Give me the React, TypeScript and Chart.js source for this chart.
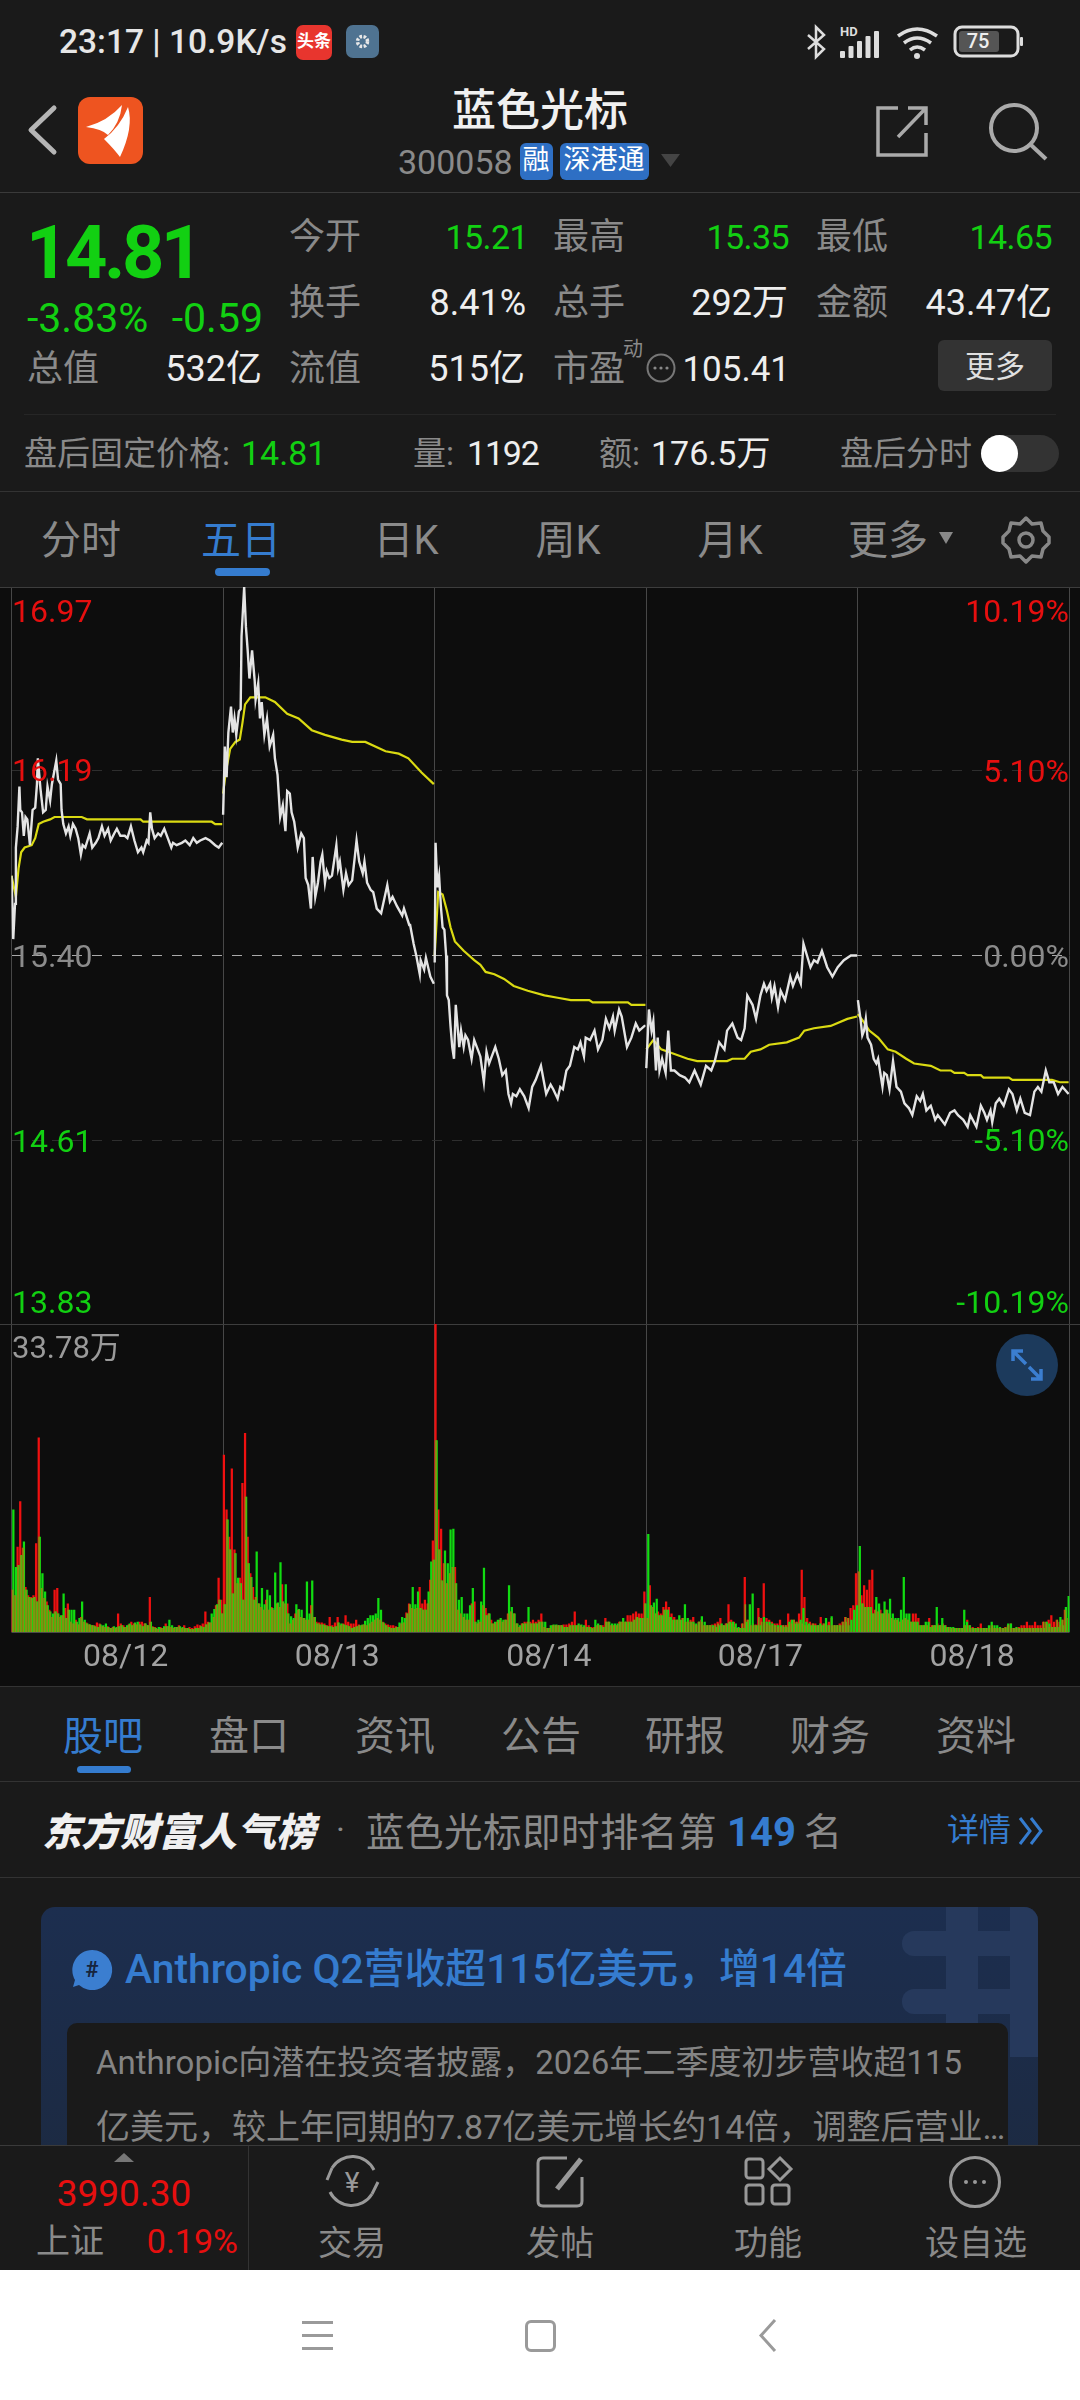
import React, { useEffect, useRef } from "react";
import { Chart, registerables } from "chart.js";

Chart.register(...registerables);

const FONT = 'Roboto, "Noto Sans CJK SC", sans-serif';
const MINUTES_PER_DAY = 241;
const dayLabels = ["08/12", "08/13", "08/14", "08/17", "08/18"];
const priceTicks = [16.97, 16.19, 15.4, 14.61, 13.83];
const priceTickLabels = ["16.97", "16.19", "15.40", "14.61", "13.83"];
const pctTicks = [10.19, 5.1, 0, -5.1, -10.19];
const pctTickLabels = ["10.19%", "5.10%", "0.00%", "-5.10%", "-10.19%"];
const volumeTick = 33.78;
const volumeTickLabel = "33.78万";

const priceMin1 = [0,2,4,5,7,9,10,12,14,16,18,21,24,27,29,30,33,36,39,41,44,46,51,53,56,57,59,62,65,67,70,73,76,79,81,84,89,92,96,99,103,106,110,113,117,120,124,129,132,136,140,144,148,150,154,156,158,160,163,167,170,174,178,182,184,188,194,198,203,207,211,215,221,226,232,236,240];
const price1 = [15.74,15.47,15.62,15.86,15.95,16.12,16.02,16.01,15.91,15.99,15.98,15.87,16.02,16.03,16.13,16.24,16.11,16.01,16.02,16.12,16.06,16.13,16.23,16.15,16.13,16.02,15.96,15.92,15.95,15.91,15.96,15.94,15.90,15.83,15.87,15.86,15.92,15.86,15.88,15.90,15.95,15.91,15.94,15.89,15.92,15.94,15.91,15.91,15.90,15.95,15.89,15.84,15.86,15.84,15.89,15.88,16.01,15.94,15.90,15.92,15.91,15.94,15.90,15.86,15.88,15.87,15.88,15.89,15.87,15.90,15.88,15.89,15.90,15.89,15.87,15.86,15.88];
const avgMin1 = [0,5,8,11,15,23,27,31,36,44,49,80,86,147,150,228,232,240];
const avg1 = [15.74,15.65,15.77,15.84,15.86,15.87,15.90,15.96,15.97,15.98,15.99,15.99,15.98,15.98,15.97,15.97,15.96,15.96];

const priceMin2 = [0,2,4,6,9,11,13,15,18,20,21,24,26,28,30,33,36,37,40,42,44,47,50,53,57,59,62,65,68,71,73,76,78,81,85,89,92,94,97,100,102,105,108,111,113,116,118,121,124,129,131,133,137,140,143,147,150,152,155,159,161,164,168,171,175,180,187,190,193,198,204,206,212,213,217,220,224,225,229,231,236,240];
const price2 = [16.00,16.29,16.16,16.35,16.46,16.35,16.41,16.34,16.44,16.45,16.76,16.97,16.80,16.70,16.58,16.70,16.57,16.49,16.56,16.41,16.48,16.34,16.41,16.29,16.34,16.24,16.17,15.99,16.04,15.93,16.10,16.09,16.01,15.97,15.86,15.92,15.90,15.73,15.70,15.60,15.82,15.65,15.71,15.80,15.83,15.71,15.76,15.73,15.74,15.87,15.77,15.80,15.68,15.75,15.70,15.72,15.82,15.89,15.80,15.75,15.80,15.71,15.68,15.67,15.60,15.58,15.70,15.63,15.65,15.61,15.57,15.60,15.53,15.53,15.45,15.40,15.32,15.38,15.34,15.39,15.31,15.28];
const avgMin2 = [0,3,8,14,19,22,25,31,48,59,73,86,101,116,135,147,162,185,200,211,226,240];
const avg2 = [16.09,16.18,16.28,16.31,16.32,16.39,16.47,16.50,16.50,16.48,16.43,16.41,16.36,16.34,16.32,16.31,16.31,16.27,16.26,16.24,16.18,16.13];

const priceMin3 = [0,1,3,5,7,9,11,13,14,16,18,20,22,24,28,30,33,35,38,42,45,49,52,56,59,62,65,69,73,77,81,84,87,89,93,97,102,107,111,115,121,127,132,135,140,143,146,150,154,159,163,166,170,172,177,182,186,191,195,199,203,205,210,213,219,224,229,233,239,240];
const price3 = [15.37,15.88,15.69,15.74,15.61,15.52,15.51,15.40,15.23,15.21,15.10,15.01,14.96,15.19,15.01,15.08,15.01,15.06,15.04,14.96,15.04,15.00,14.97,14.86,14.99,14.94,14.97,15.01,14.96,14.89,14.91,14.81,14.77,14.81,14.80,14.83,14.80,14.75,14.84,14.87,14.93,14.81,14.85,14.83,14.79,14.84,14.83,14.91,14.93,15.01,15.00,15.03,14.97,15.05,15.04,15.08,15.00,15.04,15.13,15.09,15.14,15.08,15.17,15.14,15.01,15.05,15.11,15.08,15.10,15.10];
const avgMin3 = [0,4,9,14,18,23,33,45,52,58,68,79,90,106,125,140,155,176,180,220,224,240];
const avg3 = [15.40,15.67,15.66,15.59,15.52,15.46,15.42,15.38,15.36,15.33,15.32,15.30,15.27,15.25,15.23,15.22,15.21,15.21,15.20,15.20,15.19,15.19];

const priceMin4 = [0,3,6,8,11,13,15,18,22,25,28,32,38,44,49,55,62,68,74,78,83,89,92,98,104,108,112,115,121,125,130,134,137,141,143,146,150,153,158,164,167,172,176,179,183,187,191,195,200,206,212,218,225,233,240];
const price4 = [14.92,15.17,15.08,15.12,14.91,15.05,14.91,14.96,14.90,15.08,14.91,14.91,14.89,14.88,14.86,14.91,14.85,14.93,14.91,14.95,15.03,15.00,15.08,15.11,15.05,15.04,15.09,15.23,15.19,15.13,15.23,15.28,15.25,15.28,15.22,15.27,15.18,15.25,15.21,15.31,15.27,15.32,15.28,15.45,15.40,15.35,15.38,15.37,15.42,15.35,15.31,15.35,15.38,15.40,15.40];
const avgMin4 = [0,8,17,32,47,58,92,98,112,119,130,140,160,174,180,191,210,229,240];
const avg4 = [15.00,15.04,15.00,14.98,14.96,14.95,14.95,14.96,14.96,14.99,15.00,15.02,15.03,15.05,15.08,15.09,15.10,15.13,15.14];

const priceMin5 = [0,3,5,7,9,11,15,18,21,23,28,30,33,36,40,44,49,53,58,62,67,71,74,78,83,88,91,99,105,110,114,120,125,128,135,140,144,147,151,153,157,161,166,172,176,181,185,190,196,201,205,209,214,218,223,228,233,240];
const price5 = [15.21,15.13,15.06,15.08,15.13,15.05,15.02,14.96,14.94,14.96,14.84,14.90,14.89,14.83,14.95,14.84,14.82,14.77,14.75,14.72,14.80,14.78,14.81,14.74,14.76,14.70,14.72,14.68,14.73,14.74,14.72,14.70,14.67,14.72,14.67,14.76,14.73,14.70,14.74,14.69,14.77,14.79,14.76,14.83,14.81,14.74,14.79,14.73,14.72,14.82,14.84,14.82,14.91,14.86,14.86,14.81,14.84,14.81];
const avgMin5 = [0,6,13,23,34,43,55,64,83,94,106,110,121,125,140,143,172,176,221,230,240];
const avg5 = [15.15,15.12,15.08,15.05,15.00,14.99,14.96,14.94,14.93,14.91,14.91,14.90,14.90,14.89,14.89,14.88,14.88,14.87,14.87,14.86,14.86];

const volRed1 = [4.6,4.0,9.3,14.3,9.2,4.9,4.0,3.8,4.0,9.7,21.3,4.8,3.7,3.3,2.4,1.6,4.6,4.8,1.6,1.8,2.6,3.1,1.1,0.9,1.3,0.8,1.6,1.1,1.0,0.8,0.7,0.7,1.0,0.9,0.6,0.5,0.6,0.4,0.5,0.4,2.0,0.9,0.7,0.5,0.8,1.1,0.9,0.8,1.1,1.1,0.9,0.7,3.8,0.6,0.5,0.3,0.5,0.4,0.9,0.6,0.5,0.4,0.5,0.7,0.4,0.7,0.4,0.5,0.4,0.6,0.8,0.7,0.9,2.2,1.1,1.0,1.6,2.9,5.9,3.5];
const volGreen1 = [13.4,7.1,7.3,8.4,9.9,4.6,3.8,3.7,3.8,3.3,10.4,6.4,4.4,2.9,2.2,2.0,2.2,2.0,1.8,4.2,1.5,2.4,2.4,2.4,1.1,1.5,3.3,1.3,0.9,0.8,0.7,0.6,0.5,0.8,0.7,0.9,0.5,0.4,0.6,0.5,0.6,0.7,0.5,0.7,0.9,0.7,1.0,1.1,0.8,0.6,0.9,0.7,1.1,0.5,0.4,0.5,0.4,0.6,0.6,1.3,0.7,0.5,0.5,0.6,0.5,0.4,0.4,0.3,0.3,0.4,0.4,0.6,0.5,0.8,1.0,2.0,2.5,3.0,3.5,2.0];
const volRed2 = [19.4,13.4,10.4,17.9,9.0,5.3,5.9,16.3,21.8,10.4,6.4,4.9,3.8,3.1,2.7,2.4,3.5,2.4,2.7,2.4,3.1,2.7,5.2,3.1,3.1,0.9,1.3,2.0,2.4,1.6,1.5,1.3,1.3,2.9,1.6,1.1,1.0,1.0,0.9,0.7,1.6,0.7,1.0,1.6,0.7,0.9,1.8,1.1,0.9,0.9,1.3,0.8,0.7,0.8,0.7,0.9,1.1,1.3,1.5,1.3,1.1,0.9,0.8,0.7,0.7,0.6,0.5,0.9,1.0,2.1,3.1,2.6,2.5,2.6,4.9,3.1,3.5,3.1,5.7,10.0];
const volGreen2 = [3.0,12.3,9.0,4.2,8.6,5.9,5.3,3.5,14.8,7.5,6.0,3.5,8.8,3.1,4.8,3.0,4.6,4.0,2.6,6.5,3.2,7.6,3.3,5.2,2.0,1.7,1.5,3.0,2.5,2.4,1.5,5.5,2.0,5.6,1.6,0.9,0.8,0.8,0.7,0.6,0.6,0.5,0.6,1.0,0.9,0.8,0.7,0.6,0.4,0.5,0.6,0.7,0.8,1.2,1.5,1.8,1.8,2.0,3.7,2.4,1.0,0.7,0.5,0.4,0.4,0.5,1.0,1.6,1.5,2.0,3.0,4.9,3.0,4.4,2.6,2.4,2.4,4.4,7.7,7.9];
const volRed3 = [33.78,13.4,11.3,7.5,5.3,6.4,7.1,7.1,2.4,2.0,1.6,1.3,1.3,3.1,3.3,0.9,1.1,2.9,2.6,2.0,1.3,0.9,1.1,1.3,1.1,1.3,2.0,2.2,2.0,0.9,0.5,0.9,1.1,1.1,1.1,1.3,1.1,1.3,2.0,0.5,0.4,0.4,0.7,0.7,0.7,0.7,0.8,0.8,0.9,1.1,2.2,0.7,0.7,0.5,1.3,0.7,0.5,0.5,0.7,0.7,0.7,1.5,1.1,0.7,0.7,0.7,1.1,1.1,1.1,1.8,1.8,2.0,2.2,2.0,2.0,4.4];
const volGreen3 = [21.0,9.0,5.6,8.9,7.5,11.2,11.3,5.3,3.5,3.8,2.0,2.0,2.9,4.8,1.1,1.3,3.3,7.0,1.8,2.0,0.9,1.1,1.3,1.5,1.3,1.3,5.1,2.7,2.0,0.9,0.7,0.9,0.9,2.7,0.9,0.9,0.9,1.1,1.1,1.1,0.4,0.7,0.8,0.8,0.7,0.7,0.5,0.5,0.7,0.7,0.7,0.9,0.8,0.7,0.5,0.5,0.4,1.3,0.9,0.7,0.5,1.1,1.1,0.9,0.9,0.9,1.1,1.5,1.1,1.1,1.1,1.3,1.6,1.5,1.5,3.1];
const volRed4 = [1.5,5.1,2.7,2.0,2.2,2.0,2.7,3.3,2.7,2.0,1.6,1.3,1.3,1.5,1.1,1.1,1.3,1.6,0.7,1.1,1.3,0.7,0.7,0.7,0.8,0.9,1.1,1.5,0.7,0.9,3.0,1.3,1.1,0.4,0.4,0.9,6.0,1.3,0.7,0.9,0.8,2.6,1.5,5.3,1.5,1.3,1.1,0.9,0.9,1.3,0.7,0.7,2.0,1.3,1.3,1.1,2.0,6.8,3.8,1.5,1.1,0.9,0.9,0.7,1.6,0.9,0.9,1.1,1.5,0.7,0.7,0.9,1.1,1.6,1.5,2.6,2.9,6.4];
const volGreen4 = [10.7,2.9,3.2,3.6,1.8,1.8,2.4,2.4,1.6,1.3,1.3,1.8,1.3,3.0,1.5,1.1,1.1,0.9,1.1,1.7,1.1,0.7,0.7,0.7,0.5,0.7,0.9,0.7,0.9,1.1,1.1,0.9,0.5,0.4,0.4,1.1,3.0,4.2,0.7,0.7,0.7,1.6,1.1,1.1,0.9,0.7,0.7,0.7,0.5,0.5,1.1,1.3,0.9,0.9,1.3,2.6,1.1,0.9,0.7,0.7,0.7,0.9,0.7,1.5,0.7,1.7,0.7,0.7,0.7,0.7,1.1,0.7,1.3,2.4,2.9];
const volRed5 = [6.6,4.0,5.1,4.6,5.7,6.8,2.4,2.2,2.4,2.0,2.4,2.0,1.5,1.3,1.3,1.1,1.3,1.5,1.3,1.1,2.0,2.0,1.5,0.7,0.7,0.7,1.5,0.7,0.7,0.9,0.7,0.9,0.7,0.5,0.4,0.4,0.4,0.4,0.4,0.7,1.3,0.7,0.5,0.4,0.5,0.9,0.4,0.4,0.4,0.7,0.4,0.4,0.4,0.4,0.5,0.7,0.9,0.4,0.4,0.5,0.7,0.7,1.1,0.7,0.7,1.1,0.7,0.7,1.1,1.1,1.3,1.8,1.1,1.3,1.1,1.3,2.4,1.5];
const volGreen5 = [9.4,3.1,2.7,2.7,2.7,2.0,3.8,3.1,2.0,3.3,2.4,3.6,2.0,1.5,1.5,2.4,6.0,2.0,2.0,1.1,1.1,1.1,0.7,0.7,1.1,1.1,0.5,0.7,2.7,0.7,1.5,0.7,0.5,0.5,0.5,0.4,0.4,0.4,2.4,1.1,0.7,0.4,0.4,0.4,0.4,0.4,0.4,0.7,1.1,0.7,0.7,0.5,0.4,0.4,0.9,0.9,0.4,0.5,0.4,0.4,0.4,0.4,0.4,0.4,0.4,0.4,0.4,0.4,1.1,0.9,0.5,0.5,0.5,1.6,0.7,2.7,3.9];

const priceDays = [[priceMin1, price1],[priceMin2, price2],[priceMin3, price3],[priceMin4, price4],[priceMin5, price5]];
const avgDays = [[avgMin1, avg1],[avgMin2, avg2],[avgMin3, avg3],[avgMin4, avg4],[avgMin5, avg5]];
const redDays = [volRed1, volRed2, volRed3, volRed4, volRed5];
const greenDays = [volGreen1, volGreen2, volGreen3, volGreen4, volGreen5];
const overlapDays = redDays.map((r, d) => r.map((v, i) => Math.min(v, greenDays[d][i] ?? 0)));

const RED = "#e60f0f";
const GREEN = "#12d012";
const GREY = "#8b8b8b";
const BLUE = "#357ccf";
const FRAME = "#3d3d3d";
const totalMinutes = MINUTES_PER_DAY * dayLabels.length;
const boundaries = dayLabels.map((_, i) => i * MINUTES_PER_DAY).concat(totalMinutes);
const labelMinute = 130;
const centers = dayLabels.map((_, i) => i * MINUTES_PER_DAY + labelMinute);

function buildLine(days: number[][][]) {
  const out: { x: number; y: number | null }[] = [];
  days.forEach(([mins, vals], d) => {
    const base = d * MINUTES_PER_DAY;
    mins.forEach((m, i) => out.push({ x: base + m, y: vals[i] }));
    out.push({ x: base + 240.5, y: null });
  });
  return out;
}
function buildBars(days: number[][], shift: number) {
  const out: { x: number; y: number }[] = [];
  days.forEach((vals, d) => {
    const pitch = MINUTES_PER_DAY / vals.length;
    vals.forEach((v, i) => out.push({ x: d * MINUTES_PER_DAY + (i + shift) * pitch, y: v }));
  });
  return out;
}

const priceLabelsPlugin = {
  id: "priceLabels",
  beforeDatasetsDraw(chart: any) {
    const { ctx, chartArea: a } = chart;
    ctx.save();
    ctx.strokeStyle = FRAME;
    ctx.lineWidth = 1;
    ctx.beginPath();
    ctx.moveTo(0, a.top + 0.5);
    ctx.lineTo(1080, a.top + 0.5);
    ctx.stroke();
    ctx.restore();
  },
  afterDatasetsDraw(chart: any) {
    const { ctx, scales } = chart;
    ctx.save();
    ctx.font = `32px ${FONT}`;
    ctx.textBaseline = "middle";
    const offs = [27, 3, 3, 3, -19];
    const colors = [RED, RED, GREY, GREEN, GREEN];
    ctx.textAlign = "left";
    scales.y.ticks.forEach((t: any, i: number) => {
      ctx.fillStyle = colors[i];
      ctx.fillText(priceTickLabels[i], 12, scales.y.getPixelForValue(t.value) + offs[i]);
    });
    ctx.textAlign = "right";
    scales.y2.ticks.forEach((t: any, i: number) => {
      ctx.fillStyle = colors[i];
      ctx.fillText(pctTickLabels[i], 1069, scales.y2.getPixelForValue(t.value) + offs[i]);
    });
    ctx.restore();
  },
};

const volumeLabelsPlugin = {
  id: "volumeLabels",
  beforeDatasetsDraw(chart: any) {
    const { ctx, chartArea: a } = chart;
    ctx.save();
    ctx.strokeStyle = FRAME;
    ctx.lineWidth = 1;
    ctx.beginPath();
    ctx.moveTo(0, a.top + 0.5);
    ctx.lineTo(1080, a.top + 0.5);
    ctx.stroke();
    ctx.restore();
  },
  afterDatasetsDraw(chart: any) {
    const { ctx, scales, chartArea: a } = chart;
    ctx.save();
    ctx.font = `31px ${FONT}`;
    ctx.textBaseline = "middle";
    ctx.textAlign = "left";
    ctx.fillStyle = "#9a9a9a";
    ctx.fillText(volumeTickLabel, 12, scales.y.getPixelForValue(volumeTick) + 26);
    ctx.strokeStyle = "#4a4a4a";
    ctx.beginPath();
    ctx.moveTo(a.left, a.bottom + 0.5);
    ctx.lineTo(a.right, a.bottom + 0.5);
    ctx.stroke();
    ctx.restore();
  },
};

function PriceChart() {
  const ref = useRef<HTMLCanvasElement>(null);
  useEffect(() => {
    const chart = new Chart(ref.current!, {
      type: "line",
      data: {
        datasets: [
          { data: buildLine(priceDays), borderColor: "#e4e4e4", borderWidth: 2.4, pointRadius: 0, tension: 0, spanGaps: false },
          { data: buildLine(avgDays), borderColor: "#dada12", borderWidth: 2.2, pointRadius: 0, tension: 0, spanGaps: false },
        ],
      } as any,
      options: {
        animation: false,
        responsive: false,
        events: [],
        layout: { padding: { left: 11.5, right: 10.5, top: 0, bottom: 0 } },
        plugins: { legend: { display: false }, tooltip: { enabled: false } },
        scales: {
          x: {
            type: "linear", min: 0, max: totalMinutes,
            afterBuildTicks: (s: any) => { s.ticks = boundaries.map((value) => ({ value })); },
            ticks: { display: false },
            grid: { color: "#474747", lineWidth: 1, drawTicks: false },
            border: { display: false },
          },
          y: {
            type: "linear", min: priceTicks[4], max: priceTicks[0],
            afterBuildTicks: (s: any) => { s.ticks = priceTicks.map((value) => ({ value })); },
            ticks: { display: false },
            grid: {
              drawTicks: false,
              lineWidth: 1,
              color: (c: any) => (c.tick.value === 15.4 ? "#a9a9a9" : c.tick.value === 16.97 || c.tick.value === 13.83 ? "rgba(0,0,0,0)" : "#2e2e2e"),
            },
            border: { display: false, dash: [10, 10] },
          },
          y2: {
            type: "linear", display: false, min: pctTicks[4], max: pctTicks[0], position: "right",
            afterBuildTicks: (s: any) => { s.ticks = pctTicks.map((value) => ({ value })); },
          },
        },
      } as any,
      plugins: [priceLabelsPlugin],
    });
    return () => chart.destroy();
  }, []);
  return <canvas ref={ref} width={1080} height={737} style={{ position: "absolute", left: 0, top: 587, display: "block" }} />;
}

function VolumeChart() {
  const ref = useRef<HTMLCanvasElement>(null);
  useEffect(() => {
    const chart = new Chart(ref.current!, {
      type: "bar",
      data: {
        datasets: [
          { data: buildBars(overlapDays, 0.5), backgroundColor: "#8a9010", grouped: false, barThickness: 1.0, order: 0 },
          { data: buildBars(greenDays, 0.7), backgroundColor: "#11dc11", grouped: false, barThickness: 1.6, order: 1 },
          { data: buildBars(redDays, 0.3), backgroundColor: "#f01010", grouped: false, barThickness: 1.6, order: 2 },
        ],
      } as any,
      options: {
        animation: false,
        responsive: false,
        events: [],
        layout: { padding: { left: 11.5, right: 10.5, top: 0, bottom: 0 } },
        plugins: { legend: { display: false }, tooltip: { enabled: false } },
        scales: {
          x: {
            type: "linear", min: 0, max: totalMinutes, offset: false,
            afterBuildTicks: (s: any) => {
              s.ticks = [...boundaries, ...centers].sort((a, b) => a - b).map((value) => ({ value }));
            },
            afterFit: (s: any) => { s.height = 54; },
            ticks: {
              autoSkip: false, maxRotation: 0, minRotation: 0, padding: 7, color: "#a2a2a2",
              font: { size: 32, family: FONT },
              callback: (v: number) => { const i = centers.indexOf(v); return i >= 0 ? dayLabels[i] : ""; },
            },
            grid: {
              offset: false, drawTicks: false, lineWidth: 1,
              color: (c: any) => (boundaries.includes(c.tick?.value) ? "#474747" : "rgba(0,0,0,0)"),
            },
            border: { display: false },
          },
          y: {
            type: "linear", display: false, min: 0, max: volumeTick,
            afterBuildTicks: (s: any) => { s.ticks = [{ value: volumeTick }]; },
          },
        },
      } as any,
      plugins: [volumeLabelsPlugin],
    });
    return () => chart.destroy();
  }, []);
  return <canvas ref={ref} width={1080} height={362} style={{ position: "absolute", left: 0, top: 1324, display: "block" }} />;
}

type TP = { x: number; y: number; s: number; c?: string; a?: "l" | "r" | "c"; w?: number; children: React.ReactNode; i?: boolean; sp?: number };
function T({ x, y, s, c = "#8a8a8a", a = "l", w = 400, children, i, sp }: TP) {
  const tx = a === "l" ? "0" : a === "r" ? "-100%" : "-50%";
  return (
    <div style={{ position: "absolute", left: x, top: y, transform: `translate(${tx},-50%)`, fontSize: s, color: c, fontWeight: w, fontFamily: FONT, lineHeight: 1.1, whiteSpace: "nowrap", fontStyle: i ? "italic" : "normal", letterSpacing: sp }}>
      {children}
    </div>
  );
}
function Box({ x, y, w, h, bg, r = 0 }: { x: number; y: number; w: number; h: number; bg: string; r?: number }) {
  return <div style={{ position: "absolute", left: x, top: y, width: w, height: h, background: bg, borderRadius: r }} />;
}
function Svg({ x, y, w, h, children }: { x: number; y: number; w: number; h: number; children: React.ReactNode }) {
  return <svg width={w} height={h} viewBox={`0 0 ${w} ${h}`} style={{ position: "absolute", left: x, top: y, overflow: "visible" }}>{children}</svg>;
}

export default function App() {
  return (
    <div style={{ position: "absolute", left: 0, top: 0, width: 1080, height: 2400, background: "#1a1a1a", overflow: "hidden", fontFamily: FONT }}>
      {/* status bar */}
      <T x={59} y={42} s={33.5} c="#e6e6e6" w={500}>23:17 | 10.9K/s</T>
      <Box x={296} y={25} w={36} h={35} bg="#e8352e" r={7} />
      <T x={314} y={41} s={17} c="#fff" a="c" w={700}>头条</T>
      <Box x={346} y={25} w={33} h={33} bg="#4f7391" r={7} />
      <Svg x={346} y={25} w={33} h={33}><circle cx={16.5} cy={16.5} r={5} fill="none" stroke="#e8e8e8" strokeWidth={3.5} strokeDasharray="2.5 1.5" /></Svg>
      <Svg x={806} y={25} w={218} h={34}>
        <path d="M2 10 L18 24 L10 32 L10 2 L18 10 L2 24" fill="none" stroke="#ddd" strokeWidth={2.5} />
        <text x={34} y={11} fontSize={13} fill="#ddd" fontWeight={700}>HD</text>
        {[0, 1, 2, 3, 4].map((i) => <rect key={i} x={34 + i * 8.5} y={26 - i * 5} width={5} height={7 + i * 5} fill="#ddd" rx={1} />)}
        <path d="M92 11 Q111 -3 131 11 M98 18 Q111 8 125 18 M104 25 Q111 19 119 25" fill="none" stroke="#ddd" strokeWidth={3.5} />
        <circle cx={111} cy={31} r={3} fill="#ddd" />
        <rect x={149} y={2} width={63} height={29} rx={7} fill="none" stroke="#ddd" strokeWidth={3} />
        <rect x={153} y={6} width={40} height={21} rx={3} fill="#555" />
        <rect x={214} y={12} width={3} height={9} rx={1} fill="#ddd" />
        <text x={172} y={23} fontSize={20} fill="#eee" textAnchor="middle" fontWeight={500}>75</text>
      </Svg>
      {/* nav */}
      <Svg x={28} y={106} w={28} h={48}><path d="M26 2 L3 24 L26 46" fill="none" stroke="#b5b5b5" strokeWidth={5} strokeLinecap="round" strokeLinejoin="round" /></Svg>
      <Box x={78} y={97} w={65} h={67} bg="#ee5420" r={12} />
      <Svg x={78} y={97} w={65} h={67}>
        <path d="M8 30 Q30 24 44 8 Q42 26 30 38 Q24 32 8 30Z M26 42 Q42 30 50 10 Q56 30 42 60 Q36 52 26 42Z" fill="#fff" />
      </Svg>
      <T x={540} y={111} s={44} c="#f0f0f0" a="c" w={500}>蓝色光标</T>
      <T x={398} y={163} s={34} c="#8a8a8a">300058</T>
      <Box x={520} y={143} w={33} h={37} bg="#2e6fc4" r={6} />
      <T x={536} y={161} s={27} c="#fff" a="c">融</T>
      <Box x={560} y={143} w={89} h={37} bg="#2e6fc4" r={6} />
      <T x={604} y={161} s={27} c="#fff" a="c">深港通</T>
      <Svg x={661} y={154} w={20} h={14}><path d="M0 0 L19 0 L9.5 13Z" fill="#444" /></Svg>
      <Svg x={876} y={105} w={54} h={52}>
        <path d="M22 3 L2 3 L2 50 L50 50 L50 28" fill="none" stroke="#aaa" strokeWidth={3.5} />
        <path d="M22 32 L50 3 M32 3 L50 3 L50 20" fill="none" stroke="#aaa" strokeWidth={3.5} />
      </Svg>
      <Svg x={988} y={102} w={60} h={58}>
        <circle cx={26} cy={26} r={23} fill="none" stroke="#aaa" strokeWidth={4} />
        <path d="M43 43 L58 57" stroke="#aaa" strokeWidth={4} />
      </Svg>
      <Box x={0} y={192} w={1080} h={1} bg="#3a3a3a" />
      {/* quote block */}
      <T x={26} y={253} s={74} c={GREEN} w={700} sp={-3.5}>14.81</T>
      <T x={27} y={319} s={41} c={GREEN}>-3.83%</T>
      <T x={263} y={319} s={41} c={GREEN} a="r">-0.59</T>
      <T x={289} y={238} s={36}>今开</T>
      <T x={528} y={238} s={34} c={GREEN} a="r" sp={-0.6}>15.21</T>
      <T x={553} y={238} s={36}>最高</T>
      <T x={789} y={238} s={34} c={GREEN} a="r" sp={-0.6}>15.35</T>
      <T x={816} y={238} s={36}>最低</T>
      <T x={1052} y={238} s={34} c={GREEN} a="r" sp={-0.6}>14.65</T>
      <T x={289} y={304} s={36}>换手</T>
      <T x={526} y={304} s={36} c="#eee" a="r">8.41%</T>
      <T x={553} y={304} s={36}>总手</T>
      <T x={788} y={304} s={36} c="#eee" a="r">292万</T>
      <T x={816} y={304} s={36}>金额</T>
      <T x={1052} y={304} s={36} c="#eee" a="r">43.47亿</T>
      <T x={27} y={370} s={36}>总值</T>
      <T x={262} y={370} s={36} c="#eee" a="r">532亿</T>
      <T x={289} y={370} s={36}>流值</T>
      <T x={525} y={370} s={36} c="#eee" a="r">515亿</T>
      <T x={553} y={370} s={36}>市盈</T>
      <T x={623} y={349} s={20}>动</T>
      <Svg x={646} y={353} w={30} h={30}>
        <circle cx={15} cy={15} r={13.5} fill="none" stroke="#777" strokeWidth={2} />
        <circle cx={9} cy={15} r={1.6} fill="#888" /><circle cx={15} cy={15} r={1.6} fill="#888" /><circle cx={21} cy={15} r={1.6} fill="#888" />
      </Svg>
      <T x={790} y={370} s={35} c="#eee" a="r">105.41</T>
      <Box x={938} y={340} w={114} h={51} bg="#333" r={6} />
      <T x={995} y={366} s={30} c="#e0e0e0" a="c">更多</T>
      <Box x={24} y={414} w={1032} h={1} bg="#262626" />
      <T x={24} y={454} s={33}>盘后固定价格:</T>
      <T x={241} y={454} s={34} c={GREEN}>14.81</T>
      <T x={413} y={454} s={33}>量:</T>
      <T x={467} y={454} s={34} c="#eee" sp={-1.2}>1192</T>
      <T x={599} y={454} s={33}>额:</T>
      <T x={651} y={454} s={34} c="#eee">176.5万</T>
      <T x={840} y={454} s={33}>盘后分时</T>
      <Box x={981} y={435} w={78} h={37} bg="#333" r={19} />
      <Box x={981} y={435} w={37} h={37} bg="#fff" r={19} />
      <Box x={0} y={491} w={1080} h={1} bg="#333" />
      {/* tabs */}
      <T x={81} y={541} s={40} a="c">分时</T>
      <T x={241} y={541} s={40} c={BLUE} a="c">五日</T>
      <T x={406} y={541} s={40} a="c">日K</T>
      <T x={568} y={541} s={40} a="c">周K</T>
      <T x={730} y={541} s={40} a="c">月K</T>
      <T x={888} y={541} s={40} a="c">更多</T>
      <Svg x={939} y={532} w={16} h={14}><path d="M0 0 L14 0 L7 12Z" fill="#888" /></Svg>
      <Svg x={1002} y={516} w={48} h={48}>
        <path d="M24 2 L30 8 L39 7 L41 15 L47 21 L47 27 L41 33 L39 41 L30 40 L24 46 L18 40 L9 41 L7 33 L1 27 L1 21 L7 15 L9 7 L18 8Z" fill="none" stroke="#888" strokeWidth={3.5} strokeLinejoin="round" />
        <circle cx={24} cy={24} r={7} fill="none" stroke="#888" strokeWidth={3.5} />
      </Svg>
      <Box x={215} y={568} w={55} h={8} bg={BLUE} r={4} />
      {/* chart */}
      <Box x={0} y={587} w={1080} h={1099} bg="#0d0d0d" />
      <PriceChart />
      <VolumeChart />
      <Svg x={996} y={1334} w={62} h={62}>
        <circle cx={31} cy={31} r={31} fill="#1c3a5c" />
        <path d="M17 27 L17 17 L27 17 M17 17 L30 30 M45 35 L45 45 L35 45 M45 45 L33 33" fill="none" stroke="#3b7ed0" strokeWidth={3.5} />
      </Svg>
      <Box x={0} y={1686} w={1080} h={1} bg="#333" />
      {/* lower tabs */}
      <T x={103} y={1737} s={40} c={BLUE} a="c">股吧</T>
      <T x={249} y={1737} s={40} a="c">盘口</T>
      <T x={395} y={1737} s={40} a="c">资讯</T>
      <T x={541} y={1737} s={40} a="c">公告</T>
      <T x={685} y={1737} s={40} a="c">研报</T>
      <T x={830} y={1737} s={40} a="c">财务</T>
      <T x={976} y={1737} s={40} a="c">资料</T>
      <Box x={77} y={1766} w={54} h={7} bg={BLUE} r={4} />
      <Box x={0} y={1781} w={1080} h={1} bg="#333" />
      <T x={42} y={1833} s={39} c="#f0f0f0" w={900} i>东方财富人气榜</T>
      <T x={336} y={1830} s={34}>·</T>
      <T x={366} y={1833} s={38.5} sp={0.5}>蓝色光标即时排名第</T>
      <T x={727} y={1833} s={40} c={BLUE} w={700}>149</T>
      <T x={804} y={1833} s={38}>名</T>
      <T x={947} y={1831} s={32} c={BLUE}>详情</T>
      <Svg x={1018} y={1816} w={26} h={30}>
        <path d="M2 2 L12 15 L2 28 M13 2 L23 15 L13 28" fill="none" stroke={BLUE} strokeWidth={3} />
      </Svg>
      <Box x={0} y={1877} w={1080} h={1} bg="#333" />
      {/* card */}
      <div style={{ position: "absolute", left: 41, top: 1907, width: 997, height: 260, borderRadius: 14, background: "linear-gradient(#1c2e4f,#1c2a42)", overflow: "hidden" }}>
        <svg width={997} height={260} style={{ position: "absolute", left: 0, top: 0 }}>
          <g fill="#26395c">
            <rect x={861} y={24} width={140} height={25} rx={12} />
            <rect x={861} y={82} width={140} height={25} rx={12} />
            <rect x={905} y={0} width={32} height={150} />
            <rect x={969} y={0} width={32} height={150} />
          </g>
        </svg>
      </div>
      <Svg x={71} y={1949} w={42} h={42}>
        <path d="M21 1 A20 20 0 1 1 8 36 L2 38 L4 31 A20 20 0 0 1 21 1Z" fill="#3b7ed0" />
        <text x={21} y={28} fontSize={22} fontWeight={700} textAnchor="middle" fill="#16243d">#</text>
      </Svg>
      <T x={125} y={1969} s={40.8} c={BLUE} w={500}>Anthropic Q2营收超115亿美元，增14倍</T>
      <div style={{ position: "absolute", left: 67, top: 2023, width: 941, height: 150, background: "#1a1a1a", borderRadius: 10 }} />
      <T x={96} y={2063} s={33} c="#848484">Anthropic向潜在投资者披露，2026年二季度初步营收超115</T>
      <T x={96} y={2128} s={34} c="#848484">亿美元，较上年同期的7.87亿美元增长约14倍，调整后营业…</T>
      {/* bottom bar */}
      <Box x={0} y={2145} w={1080} h={125} bg="#1a1a1a" />
      <Box x={0} y={2145} w={1080} h={1} bg="#3a3a3a" />
      <Box x={248} y={2146} w={1} h={124} bg="#333" />
      <Svg x={114} y={2153} w={20} h={10}><path d="M10 0 L20 9 L0 9Z" fill="#777" /></Svg>
      <T x={124} y={2194} s={37} c={RED} a="c">3990.30</T>
      <T x={36} y={2242} s={34}>上证</T>
      <T x={238} y={2242} s={34} c={RED} a="r">0.19%</T>
      <Svg x={322} y={2154} w={60} h={56}>
        <path d="M10 14 A24 24 0 0 1 52 16 M50 40 A24 24 0 0 1 8 38" fill="none" stroke="#999" strokeWidth={3} />
        <path d="M5 26 L10 14 M56 28 L50 40" stroke="#999" strokeWidth={3} />
        <text x={30} y={38} fontSize={28} textAnchor="middle" fill="#999">¥</text>
      </Svg>
      <Svg x={535} y={2155} w={52} h={54}>
        <path d="M32 3 L8 3 Q3 3 3 8 L3 46 Q3 51 8 51 L42 51 Q47 51 47 46 L47 22" fill="none" stroke="#999" strokeWidth={3} />
        <path d="M22 34 L46 4" stroke="#999" strokeWidth={5} />
      </Svg>
      <Svg x={744} y={2156} w={50} h={50}>
        <rect x={2} y={3} width={17} height={19} rx={3} fill="none" stroke="#999" strokeWidth={3} />
        <rect x={2} y={29} width={17} height={19} rx={3} fill="none" stroke="#999" strokeWidth={3} />
        <rect x={28} y={29} width={17} height={19} rx={3} fill="none" stroke="#999" strokeWidth={3} />
        <path d="M36 2 L47 13 L36 24 L25 13Z" fill="none" stroke="#999" strokeWidth={3} />
      </Svg>
      <Svg x={949} y={2156} w={52} h={52}>
        <circle cx={26} cy={26} r={24.5} fill="none" stroke="#999" strokeWidth={3} />
        <circle cx={17} cy={26} r={2} fill="#999" /><circle cx={26} cy={26} r={2} fill="#999" /><circle cx={35} cy={26} r={2} fill="#999" />
      </Svg>
      <T x={352} y={2244} s={34} a="c">交易</T>
      <T x={560} y={2244} s={34} a="c">发帖</T>
      <T x={768} y={2244} s={34} a="c">功能</T>
      <T x={976} y={2244} s={34} a="c">设自选</T>
      {/* android nav */}
      <Box x={0} y={2270} w={1080} h={130} bg="#fff" />
      <Box x={302} y={2321} w={31} h={3} bg="#9a9a9a" />
      <Box x={302} y={2334} w={31} h={3} bg="#9a9a9a" />
      <Box x={302} y={2347} w={31} h={3} bg="#9a9a9a" />
      <div style={{ position: "absolute", left: 525, top: 2320, width: 25, height: 26, border: "3px solid #9a9a9a", borderRadius: 6 }} />
      <Svg x={759} y={2319} w={18} h={33}><path d="M16 1 L2 16.5 L16 32" fill="none" stroke="#9a9a9a" strokeWidth={3} /></Svg>
    </div>
  );
}
